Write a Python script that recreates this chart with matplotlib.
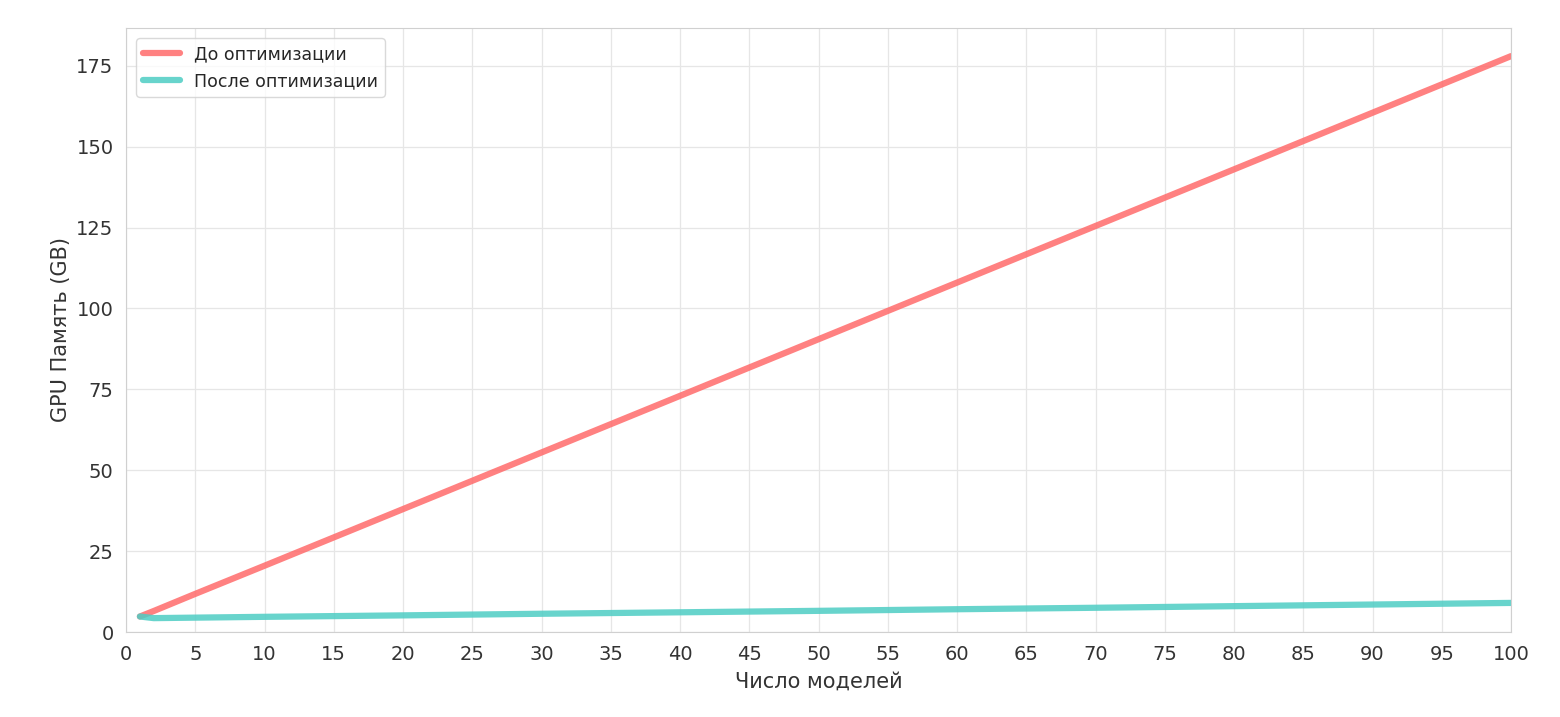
import matplotlib
matplotlib.use("Agg")
import matplotlib.pyplot as plt
import seaborn as sns

# number of models
n_models = [1, 2, 5, 10, 20, 30, 40, 50, 60, 70, 80, 90, 100]
# GPU memory before optimization (GB)
mem_before = [4.8, 6.5, 11.8, 20.5, 38.0, 55.5, 73.0, 90.5, 108.0, 125.5, 143.0, 160.5, 178.0]
# GPU memory after optimization (GB)
mem_after = [4.8, 4.3, 4.45, 4.7, 5.15, 5.65, 6.1, 6.55, 7.05, 7.5, 8.0, 8.5, 9.0]

labels = ["До оптимизации", "После оптимизации"]

sns.set_style("whitegrid")
plt.rcParams['font.family'] = ['DejaVu Sans']

fig = plt.figure(figsize=(15.6, 7.17), dpi=100)
ax = fig.add_axes([0.0808, 0.1185, 0.8878, 0.8425])

ax.plot(n_models, mem_before, color='#FF6B6B', alpha=0.85, lw=4.5, label=labels[0])
ax.plot(n_models, mem_after, color='#4ECDC4', alpha=0.85, lw=4.5, label=labels[1])

ax.set_xlim(0, 100)
ax.set_ylim(0, 186.7)
ax.set_xticks(range(0, 101, 5))
ax.set_yticks(range(0, 176, 25))
ax.tick_params(labelsize=14, colors='#333333', length=0, pad=9)
ax.set_xlabel("Число моделей", fontsize=15, color='#333333', labelpad=6)
ax.set_ylabel("GPU Память (GB)", fontsize=15, color='#333333', labelpad=4)

ax.grid(True, color='#e6e6e6', lw=0.9)
for s in ax.spines.values():
    s.set_color('#d0d0d0')

ax.legend(loc='upper left', fontsize=12.5, frameon=True, edgecolor='#d0d0d0',
          handlelength=2.1, borderaxespad=0.6)

fig.savefig("out.png", dpi=100)
